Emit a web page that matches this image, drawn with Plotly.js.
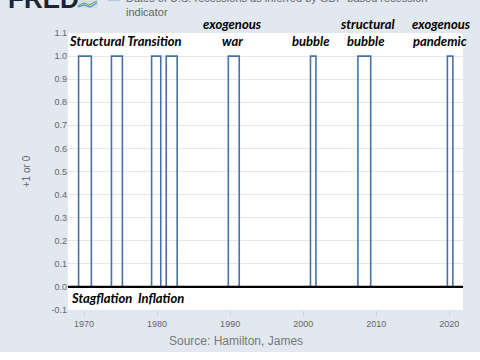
<!DOCTYPE html>
<html><head><meta charset="utf-8">
<script src="https://cdn.plot.ly/plotly-3.0.1.min.js"></script>
<style>html,body{margin:0;padding:0;background:#fff}#c{width:480px;height:360px}</style>
</head><body><div id="c"></div>
<script>
// Recession periods (GDP-based recession indicator = 1)
const recessionStarts = ["1969-04-01","1973-10-01","1979-04-01","1981-04-01","1989-10-01","2001-01-01","2007-07-01","2019-10-01"];
const recessionEnds   = ["1971-01-01","1975-04-01","1980-07-01","1982-10-01","1991-04-01","2001-10-01","2009-04-01","2020-07-01"];
const seriesStart = "1967-10-01";
const seriesEnd = "2021-10-01";
const yTicks = [-0.1,0.0,0.1,0.2,0.3,0.4,0.5,0.6,0.7,0.8,0.9,1.0,1.1];
const xTickVals = ["1970-01-01","1980-01-01","1990-01-01","2000-01-01","2010-01-01","2020-01-01"];
const xTickText = ["1970","1980","1990","2000","2010","2020"];

const xs = [seriesStart], ys = [0];
for (let i = 0; i < recessionStarts.length; i++) {
  xs.push(recessionStarts[i], recessionStarts[i], recessionEnds[i], recessionEnds[i]);
  ys.push(0, 1, 1, 0);
}
xs.push(seriesEnd); ys.push(0);

// plot area in pixels: left 68, right 463, top 33, bottom 310
const L = 68, W = 395, B = 310, H = 277;
const fx = x => (x - L) / W;
const fy = y => (B - y) / H;

const ann = (text, x, y, xanchor) => ({text: "<b><i>" + text + "</i></b>", xref: "paper", yref: "paper",
  x: fx(x), y: fy(y), xanchor: xanchor || "center", yanchor: "middle", showarrow: false,
  font: {family: "Lato, 'Open Sans', sans-serif", size: 13, color: "#000"}});

const layout = {
  width: 480, height: 360,
  paper_bgcolor: "#e1e8f0", plot_bgcolor: "#ffffff",
  margin: {l: 68, r: 17, t: 33, b: 50},
  showlegend: false,
  xaxis: {type: "date", range: ["1967-10-20","2021-11-20"], tickvals: xTickVals, ticktext: xTickText,
    showgrid: false, zeroline: false, ticks: "outside", ticklen: 5, tickcolor: "#c8d3de",
    tickfont: {family: "Liberation Sans, Arial, sans-serif", size: 9, color: "#666"}},
  yaxis: {range: [-0.1, 1.1], tickvals: yTicks, ticktext: yTicks.map(v => v.toFixed(1)),
    showgrid: true, gridcolor: "#e6e6e6", zeroline: false, ticks: "",
    tickfont: {family: "Liberation Sans, Arial, sans-serif", size: 9, color: "#666"},
    title: {text: "+1 or 0", font: {family: "Liberation Sans, Arial, sans-serif", size: 10, color: "#666"}, standoff: 18}},
  shapes: [
    {type: "line", xref: "paper", yref: "y", x0: 0, x1: 1, y0: 0, y1: 0, line: {color: "#000", width: 2.2}},
    {type: "rect", xref: "paper", yref: "paper", x0: fx(0), x1: fx(480), y0: fy(360), y1: fy(352), fillcolor: "#ffffff", line: {width: 0}, layer: "above"},
    {type: "line", xref: "paper", yref: "paper", x0: fx(108), x1: fx(120), y0: fy(0.5), y1: fy(0.5), line: {color: "#b9cbe0", width: 1.5}},
    {type: "rect", xref: "paper", yref: "paper", x0: fx(77), x1: fx(98), y0: fy(8), y1: fy(-2), fillcolor: "#d6dde4", line: {width: 0}},
    {type: "path", xref: "paper", yref: "paper", path: "M " + fx(78) + "," + fy(6) + " L " + fx(84) + "," + fy(3) + " L " + fx(89) + "," + fy(5) + " L " + fx(97) + "," + fy(1),
      line: {color: "#6fae6a", width: 1.2}},
    {type: "path", xref: "paper", yref: "paper", path: "M " + fx(78) + "," + fy(7) + " L " + fx(84) + "," + fy(5) + " L " + fx(90) + "," + fy(7) + " L " + fx(97) + "," + fy(3),
      line: {color: "#5b8fd0", width: 1.2}}
  ],
  annotations: [
    {text: "<b>FRED</b>", xref: "paper", yref: "paper", x: fx(6), y: fy(-1), xanchor: "left", yanchor: "middle",
      showarrow: false, font: {family: "Liberation Sans, Arial, sans-serif", size: 26, color: "#1a2433"}},
    {text: "Dates of U.S. recessions as inferred by GDP-based recession<br>indicator", xref: "paper", yref: "paper",
      x: fx(124), y: fy(5), xanchor: "left", yanchor: "middle", align: "left", showarrow: false,
      font: {family: "Liberation Sans, Arial, sans-serif", size: 11, color: "#666"}},
    ann("Structural Transition", 67, 41, "left"),
    ann("exogenous", 232, 24),
    ann("war", 232, 41),
    ann("bubble", 311, 41),
    ann("structural", 367, 24),
    ann("bubble", 366, 41),
    ann("exogenous", 441, 24),
    ann("pandemic", 440, 41),
    ann("Stagflation&nbsp;&nbsp;Inflation", 69, 298, "left"),
    {text: "Source: Hamilton, James", xref: "paper", yref: "paper", x: fx(236), y: fy(341), xanchor: "center", yanchor: "middle",
      showarrow: false, font: {family: "Liberation Sans, Arial, sans-serif", size: 12, color: "#777"}}
  ]
};

Plotly.newPlot("c", [{x: xs, y: ys, type: "scatter", mode: "lines", line: {color: "#4572a7", width: 1.6}, hoverinfo: "skip"}], layout,
  {staticPlot: true, displayModeBar: false});
</script></body></html>
